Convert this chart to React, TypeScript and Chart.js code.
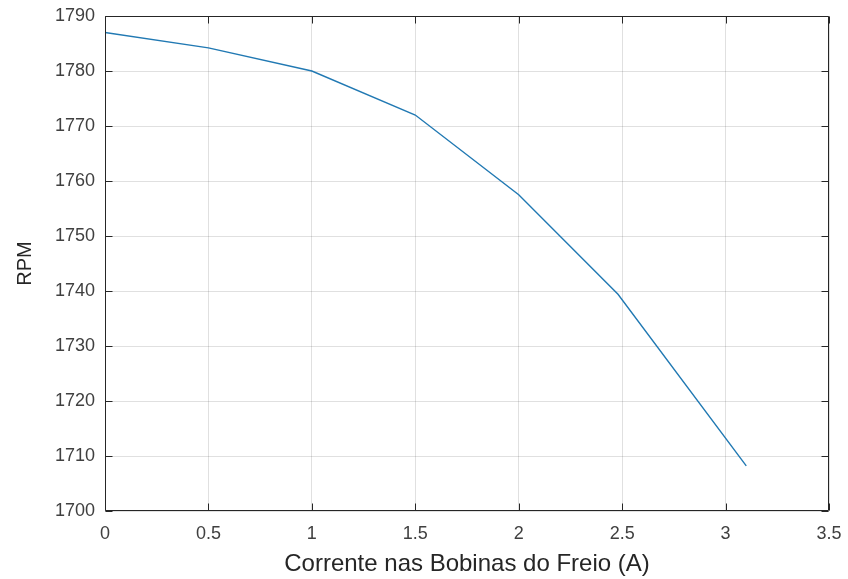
import React, { useEffect, useRef } from "react";
import { Chart, registerables } from "chart.js";

Chart.register(...registerables);

const currentA: number[] = [0, 0.5, 1, 1.5, 2, 2.48, 3.1];
const rpm: number[] = [1787, 1784.2, 1780, 1772, 1757.5, 1739.4, 1708.2];
const xTicks: number[] = [0, 0.5, 1, 1.5, 2, 2.5, 3, 3.5];
const yTicks: number[] = [1700, 1710, 1720, 1730, 1740, 1750, 1760, 1770, 1780, 1790];
const xLabel = "Corrente nas Bobinas do Freio (A)";
const yLabel = "RPM";

const AXIS = "#262626";
const FONT = "'Liberation Sans', Arial, Helvetica, sans-serif";

const boxPlugin = {
  id: "matlabBox",
  afterDraw(chart: any) {
    const { ctx, chartArea } = chart;
    const { left, right, top, bottom } = chartArea;
    const xs = chart.scales.x;
    const ys = chart.scales.y;
    const len = 7;
    ctx.save();
    ctx.strokeStyle = AXIS;
    ctx.lineWidth = 1;
    ctx.beginPath();
    const L = Math.round(left) + 0.5;
    const R = Math.round(right) - 0.5;
    const T = Math.round(top) + 0.5;
    const B = Math.round(bottom) - 0.5;
    ctx.rect(L, T, R - L, B - T);
    xTicks.forEach((v) => {
      const px = Math.round(xs.getPixelForValue(v)) + 0.5;
      ctx.moveTo(px, B);
      ctx.lineTo(px, B - len);
      ctx.moveTo(px, T);
      ctx.lineTo(px, T + len);
    });
    yTicks.forEach((v) => {
      const py = Math.round(ys.getPixelForValue(v)) + 0.5;
      ctx.moveTo(L, py);
      ctx.lineTo(L + len, py);
      ctx.moveTo(R, py);
      ctx.lineTo(R - len, py);
    });
    ctx.stroke();
    ctx.restore();
  },
};

export default function App() {
  const ref = useRef<HTMLCanvasElement | null>(null);

  useEffect(() => {
    document.body.style.margin = "0";
    const canvas = ref.current;
    if (!canvas) return;
    const chart = new Chart(canvas, {
      type: "line",
      data: {
        datasets: [
          {
            data: currentA.map((x, i) => ({ x, y: rpm[i] })),
            borderColor: "#2179b3",
            borderWidth: 1.4,
            pointRadius: 0,
            tension: 0,
            fill: false,
          },
        ],
      },
      options: {
        responsive: false,
        animation: false,
        events: [],
        layout: { padding: { top: 16, right: 19, left: 0, bottom: 0 } },
        plugins: {
          legend: { display: false },
          tooltip: { enabled: false },
        },
        scales: {
          x: {
            type: "linear",
            min: 0,
            max: 3.5,
            afterFit: (s: any) => {
              s.height = 68;
              s.paddingLeft = 0;
              s.paddingRight = 0;
            },
            afterBuildTicks: (s: any) => {
              s.ticks = xTicks.map((v) => ({ value: v }));
            },
            ticks: {
              color: "#404040",
              font: { family: FONT, size: 18 },
              padding: 12,
              maxRotation: 0,
              autoSkip: false,
              callback: (v: any) => String(v),
            },
            grid: {
              color: "rgba(38,38,38,0.14)",
              drawTicks: false,
              lineWidth: 1,
            },
            border: { display: false },
            title: {
              display: true,
              text: xLabel,
              color: AXIS,
              font: { family: FONT, size: 24 },
              padding: { top: 0, bottom: 0 },
            },
          },
          y: {
            type: "linear",
            min: 1700,
            max: 1790,
            afterFit: (s: any) => {
              s.width = 105;
              s.paddingTop = 0;
              s.paddingBottom = 0;
            },
            afterBuildTicks: (s: any) => {
              s.ticks = yTicks.map((v) => ({ value: v }));
            },
            ticks: {
              color: "#404040",
              font: { family: FONT, size: 18 },
              padding: 10,
              autoSkip: false,
              callback: (v: any) => String(v),
            },
            grid: {
              color: "rgba(38,38,38,0.14)",
              drawTicks: false,
              lineWidth: 1,
            },
            border: { display: false },
            title: {
              display: true,
              text: yLabel,
              color: AXIS,
              font: { family: FONT, size: 20 },
              padding: { top: 13, bottom: 0 },
            },
          },
        },
      },
      plugins: [boxPlugin],
    } as any);
    return () => chart.destroy();
  }, []);

  return (
    <div style={{ position: "absolute", left: 0, top: 0, width: 848, height: 579, background: "#fff" }}>
      <canvas ref={ref} width={848} height={579} style={{ display: "block" }} />
    </div>
  );
}
